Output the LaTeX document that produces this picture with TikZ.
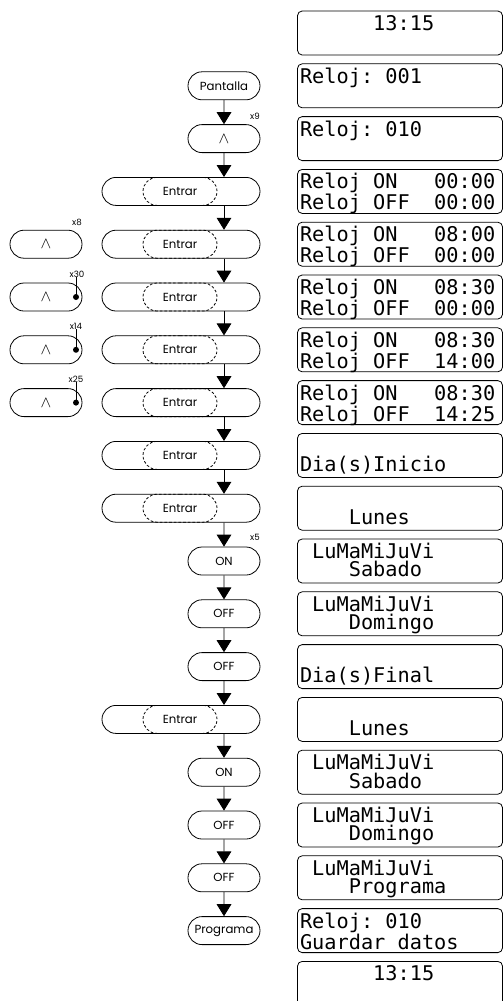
\documentclass[tikz,border=0pt]{standalone}
\usepackage{fontspec}
\setmainfont{Poppins}
\newfontfamily\lcdfont{DejaVu Sans Mono}
\usetikzlibrary{arrows.meta,shapes.misc}
\tikzstyle{lcd}=[rectangle,rounded corners=3.5pt,draw=black,line width=0.6pt,
  inner sep=0pt,minimum width=153.75pt,minimum height=33pt]
\tikzstyle{btn}=[rounded rectangle,draw=black,line width=0.6pt,inner sep=0pt,
  minimum width=54pt,minimum height=21pt,font=\fontsize{8.8}{10}\selectfont]
\tikzstyle{wbtn}=[btn,minimum width=118.5pt]
\tikzstyle{entr}=[btn,dash pattern=on 2pt off 1.5pt,minimum width=55.5pt]
\tikzstyle{cnt}=[inner sep=0pt,font=\fontsize{6.5}{7}\selectfont]
\tikzstyle{bullet}=[circle,fill=black,inner sep=0pt,minimum size=4.5pt]
\tikzstyle{arr}=[line width=0.6pt,-{Triangle[width=11pt,length=9pt]}]
\tikzstyle{none}=[]
\newcommand{\lcdrows}[2]{\parbox[c][33pt][t]{150pt}{\lcdfont
  \fontsize{15.2}{13.8}\selectfont\rule{0pt}{14.6pt}#1\\\mbox{}#2}}
\newcommand{\up}{{\fontsize{12.5}{12}\selectfont$\wedge$}}

\begin{document}
\begin{tikzpicture}[x=0.75pt, y=-0.75pt]
            \useasboundingbox (0,0) rectangle (503,1001);
            % displays
            \node [style=lcd] (0) at (400, 33) {\lcdrows{~~~~~~13:15}{}};
            \node [style=lcd] (1) at (400, 85.8) {\lcdrows{Reloj:~001}{}};
            \node [style=lcd] (2) at (400, 138.6) {\lcdrows{Reloj:~010}{}};
            \node [style=lcd] (3) at (400, 191.4) {\lcdrows{Reloj~ON~~~00:00}{Reloj~OFF~~00:00}};
            \node [style=lcd] (4) at (400, 244.2) {\lcdrows{Reloj~ON~~~08:00}{Reloj~OFF~~00:00}};
            \node [style=lcd] (5) at (400, 297) {\lcdrows{Reloj~ON~~~08:30}{Reloj~OFF~~00:00}};
            \node [style=lcd] (6) at (400, 349.8) {\lcdrows{Reloj~ON~~~08:30}{Reloj~OFF~~14:00}};
            \node [style=lcd] (7) at (400, 402.6) {\lcdrows{Reloj~ON~~~08:30}{Reloj~OFF~~14:25}};
            \node [style=lcd] (8) at (400, 455.4) {\lcdrows{}{Dia(s)Inicio}};
            \node [style=lcd] (9) at (400, 508.2) {\lcdrows{}{~~~~Lunes}};
            \node [style=lcd] (10) at (400, 561) {\lcdrows{~LuMaMiJuVi}{~~~~Sabado}};
            \node [style=lcd] (11) at (400, 613.8) {\lcdrows{~LuMaMiJuVi}{~~~~Domingo}};
            \node [style=lcd] (12) at (400, 666.6) {\lcdrows{}{Dia(s)Final}};
            \node [style=lcd] (13) at (400, 719.4) {\lcdrows{}{~~~~Lunes}};
            \node [style=lcd] (14) at (400, 772.2) {\lcdrows{~LuMaMiJuVi}{~~~~Sabado}};
            \node [style=lcd] (15) at (400, 825) {\lcdrows{~LuMaMiJuVi}{~~~~Domingo}};
            \node [style=lcd] (16) at (400, 877.8) {\lcdrows{~LuMaMiJuVi}{~~~~Programa}};
            \node [style=lcd] (17) at (400, 930.6) {\lcdrows{Reloj:~010}{Guardar~datos}};
            \node [style=lcd] (18) at (400, 983.4) {\lcdrows{~~~~~~13:15}{}};
            % keys
            \node [style=btn] (20) at (224, 85.8) {Pantalla};
            \node [style=btn] (21) at (224, 138.6) {\up};
            \node [style=wbtn] (22) at (181, 191.4) {};
            \node [style=wbtn] (23) at (181, 244.2) {};
            \node [style=wbtn] (24) at (181, 297) {};
            \node [style=wbtn] (25) at (181, 349.8) {};
            \node [style=wbtn] (26) at (181, 402.6) {};
            \node [style=wbtn] (27) at (181, 455.4) {};
            \node [style=wbtn] (28) at (181, 508.2) {};
            \node [style=btn] (29) at (224, 561) {ON};
            \node [style=btn] (30) at (224, 613.8) {OFF};
            \node [style=btn] (31) at (224, 666.6) {OFF};
            \node [style=wbtn] (32) at (181, 719.4) {};
            \node [style=btn] (33) at (224, 772.2) {ON};
            \node [style=btn] (34) at (224, 825) {OFF};
            \node [style=btn] (35) at (224, 877.8) {OFF};
            \node [style=btn] (36) at (224, 930.6) {Programa};
            \node [style=entr] (40) at (180, 191.4) {Entrar};
            \node [style=entr] (41) at (180, 244.2) {Entrar};
            \node [style=entr] (42) at (180, 297) {Entrar};
            \node [style=entr] (43) at (180, 349.8) {Entrar};
            \node [style=entr] (44) at (180, 402.6) {Entrar};
            \node [style=entr] (45) at (180, 455.4) {Entrar};
            \node [style=entr] (46) at (180, 508.2) {Entrar};
            \node [style=entr] (47) at (180, 719.4) {Entrar};
            \node [style=btn] (50) at (46, 244.2) {\up};
            \node [style=btn] (51) at (46, 297) {\up};
            \node [style=btn] (52) at (46, 349.8) {\up};
            \node [style=btn] (53) at (46, 402.6) {\up};
            \node [style=bullet] (54) at (76, 297) {};
            \node [style=bullet] (55) at (76, 349.8) {};
            \node [style=bullet] (56) at (76, 402.6) {};
            % repeat counts
            \node [style=cnt] (60) at (255, 116) {x9};
            \node [style=cnt] (61) at (255, 537) {x5};
            \node [style=cnt] (62) at (77, 222) {x8};
            \node [style=cnt] (63) at (77, 274) {x30};
            \node [style=cnt] (64) at (76, 326) {x14};
            \node [style=cnt] (65) at (76, 379) {x25};
            \draw [line width=0.6pt] (63.south -| 54) to (54.center);
            \draw [line width=0.6pt] (64.south -| 55) to (55.center);
            \draw [line width=0.6pt] (65.south -| 56) to (56.center);
            % flow
            \draw [style=arr] (20) to (21);
            \draw [style=arr] (21) to (22.north -| 21);
            \draw [style=arr] (22.south -| 21) to (23.north -| 21);
            \draw [style=arr] (23.south -| 21) to (24.north -| 21);
            \draw [style=arr] (24.south -| 21) to (25.north -| 21);
            \draw [style=arr] (25.south -| 21) to (26.north -| 21);
            \draw [style=arr] (26.south -| 21) to (27.north -| 21);
            \draw [style=arr] (27.south -| 21) to (28.north -| 21);
            \draw [style=arr] (28.south -| 21) to (29);
            \draw [style=arr] (29) to (30);
            \draw [style=arr] (30) to (31);
            \draw [style=arr] (31) to (32.north -| 21);
            \draw [style=arr] (32.south -| 21) to (33);
            \draw [style=arr] (33) to (34);
            \draw [style=arr] (34) to (35);
            \draw [style=arr] (35) to (36);
\end{tikzpicture}
\end{document}
